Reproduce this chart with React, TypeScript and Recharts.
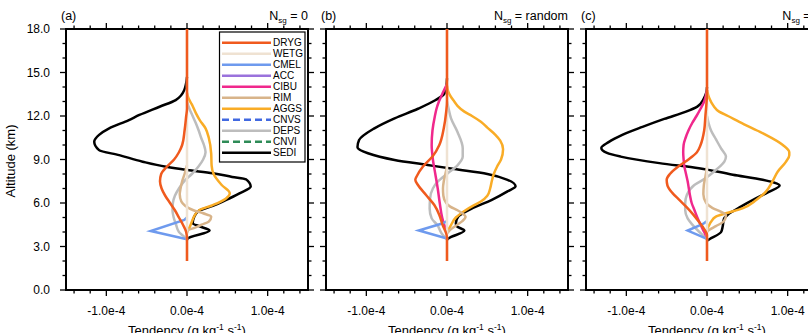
import React from 'react';
import { ComposedChart, Line, XAxis, YAxis, ReferenceArea } from 'recharts';

// Profile points: [altitude (km), tendency in units of 1e-5 g kg-1 s-1]
type Pt = [number, number];
const UNIT = 1e-5;

const SERIES_NAMES = ['DRYG', 'WETG', 'CMEL', 'ACC', 'CIBU', 'RIM', 'AGGS', 'CNVS', 'DEPS', 'CNVI', 'SEDI'];

const SERIES_STYLE: Record<string, { color: string; dash?: string; linear?: boolean }> = {
  DRYG: { color: '#F05A1E' },
  WETG: { color: '#EFE2D2' },
  CMEL: { color: '#6E9AEE', linear: true },
  ACC: { color: '#9A72DC' },
  CIBU: { color: '#F0288C' },
  RIM: { color: '#D8B48A' },
  AGGS: { color: '#F9AC26' },
  CNVS: { color: '#4169E1', dash: '7 4' },
  DEPS: { color: '#BDBDBD' },
  CNVI: { color: '#2E8B57', dash: '7 4' },
  SEDI: { color: '#000000' },
};

const ZERO: Pt[] = [[2, 0], [18, 0]];

// ---- N_sg = 0
const DRYG_A: Pt[] = [[2, 0], [3.5, 0], [4, -0.1], [4.5, -0.5], [5, -1.0], [5.5, -1.5], [6, -2.1], [6.5, -2.7], [7, -3.15], [7.5, -3.35], [8, -3.2], [8.5, -2.5], [9, -1.6], [9.5, -1.0], [10, -0.6], [11, -0.3], [12, -0.1], [12.5, 0], [18, 0]];
const CMEL_A: Pt[] = [[3.5, 0], [4.07, -4.5], [4.83, -0.33], [5.0, 0]];
const RIM_A: Pt[] = [[3.9, 0], [4.1, 0.1], [4.3, 1.0], [4.5, 1.8], [4.72, 2.7], [5.06, 3.0], [5.29, 2.0], [5.5, 0.8], [5.8, -0.2], [6.1, -0.7], [6.6, -0.9], [7.0, -0.8], [7.5, -0.6], [8.0, -0.3], [8.6, 0]];
const AGGS_A: Pt[] = [[4.0, 0], [4.3, 0.3], [4.7, 0.6], [5.1, 0.9], [5.5, 1.5], [5.86, 3.2], [6.3, 4.8], [6.67, 5.3], [7.24, 4.3], [8.0, 3.3], [8.6, 3.05], [9.4, 3.0], [10.5, 2.7], [11.15, 2.3], [11.7, 1.6], [12.2, 1.1], [12.8, 0.6], [13.2, 0.2], [13.6, 0]];
const DEPS_A: Pt[] = [[3.5, 0], [3.75, -0.5], [4.0, -1.0], [4.5, -1.35], [5.0, -1.65], [5.5, -1.8], [6.0, -1.75], [6.5, -1.5], [7.0, -1.0], [7.6, -0.2], [8.0, 0.6], [8.5, 1.4], [9.0, 2.0], [9.5, 2.3], [10.0, 2.1], [10.5, 1.75], [11.0, 1.45], [11.5, 1.1], [12.0, 0.7], [12.5, 0.3], [13.0, 0]];
const SEDI_A: Pt[] = [[3.45, 0], [3.56, 0.1], [4.1, 2.8], [4.4, 1.5], [4.6, 0.7], [5.06, 0.9], [5.47, 1.5], [5.8, 3.2], [6.2, 4.8], [6.67, 6.5], [7.13, 7.9], [7.63, 7.3], [7.8, 5.6], [8.05, 3.2], [8.28, 0], [8.5, -2.6], [8.85, -5.5], [9.3, -8.4], [9.65, -10.9], [10.23, -11.5], [10.7, -10.9], [11.15, -9.65], [11.72, -7.2], [12.07, -5.9], [12.64, -3.4], [13.1, -1.4], [13.8, -0.33], [14.7, 0]];

// ---- N_sg = random
const DRYG_B: Pt[] = [[2, 0], [3.6, 0], [3.9, -0.1], [4.48, -0.54], [5.17, -0.95], [5.86, -1.57], [6.55, -2.6], [7.24, -3.6], [7.6, -3.93], [7.9, -3.7], [8.5, -3.0], [9.2, -1.8], [10.0, -0.95], [11.15, -0.4], [12.3, -0.1], [13.0, 0], [18, 0]];
const CMEL_B: Pt[] = [[3.55, 0], [4.1, -3.5], [4.6, -0.5], [4.75, 0]];
const CIBU_B: Pt[] = [[4.0, 0], [4.5, -0.35], [5.0, -0.6], [6.0, -0.9], [7.0, -1.15], [8.0, -1.45], [9.0, -1.75], [10.0, -1.9], [11.0, -1.8], [12.0, -1.5], [12.5, -1.3], [13.0, -1.0], [13.5, -0.6], [14.2, 0]];
const RIM_B: Pt[] = [[3.9, 0], [4.1, 0.3], [4.4, 1.0], [4.75, 1.9], [5.05, 2.3], [5.25, 2.0], [5.5, 1.3], [5.75, 0.4], [6.0, -0.1], [6.5, -0.45], [7.0, -0.5], [7.5, -0.4], [8.0, -0.2], [8.5, 0]];
const AGGS_B: Pt[] = [[4.0, 0], [4.48, 0.5], [5.0, 1.1], [5.5, 2.3], [5.8, 3.2], [6.1, 4.2], [6.5, 5.0], [7.0, 5.35], [7.5, 5.55], [8.0, 5.8], [8.5, 6.2], [9.0, 6.7], [9.7, 6.95], [10.3, 6.6], [10.7, 6.0], [11.2, 5.0], [11.6, 4.2], [12.0, 3.1], [12.3, 2.15], [12.7, 1.3], [13.0, 0.9], [13.4, 0.4], [13.7, 0.15], [14.1, 0]];
const DEPS_B: Pt[] = [[3.5, 0], [3.9, -0.66], [4.48, -1.2], [4.94, -1.9], [5.6, -2.15], [6.3, -2.1], [7.0, -1.75], [7.47, -1.15], [8.05, 0.1], [8.6, 1.3], [9.2, 1.95], [9.77, 1.95], [10.9, 1.3], [11.84, 0.5], [12.5, 0.2], [13.0, 0]];
const SEDI_B: Pt[] = [[3.45, 0], [3.56, 0.2], [4.1, 2.15], [4.4, 1.2], [4.6, 1.1], [5.06, 1.4], [5.6, 3.0], [6.2, 5.5], [6.8, 7.5], [7.15, 8.5], [7.6, 7.5], [8.0, 5.0], [8.34, 0.9], [8.62, -2.4], [8.97, -6.5], [9.43, -9.8], [9.85, -11.1], [10.34, -10.9], [11.15, -9.0], [11.84, -6.5], [12.5, -3.6], [13.1, -1.4], [13.56, -0.3], [14.0, -0.1], [14.6, 0]];

// ---- N_sg = 10
const DRYG_C: Pt[] = [[2, 0], [3.8, 0], [4.2, -0.35], [4.7, -1.0], [5.2, -1.7], [5.7, -2.5], [6.2, -3.4], [6.7, -4.3], [7.2, -4.9], [7.6, -5.0], [8.0, -4.6], [8.5, -3.6], [9.0, -2.3], [9.5, -1.25], [10.0, -0.8], [11.0, -0.35], [12.0, -0.2], [13.0, -0.05], [13.5, 0], [18, 0]];
const CMEL_C: Pt[] = [[3.52, 0], [4.1, -2.4], [4.55, -0.5], [4.75, 0]];
const CIBU_C: Pt[] = [[3.6, 0], [4.0, -0.35], [4.5, -0.8], [5.0, -1.2], [5.5, -1.55], [6.0, -1.9], [6.5, -2.1], [7.0, -2.25], [7.5, -2.4], [8.0, -2.6], [8.5, -2.8], [9.0, -2.9], [9.5, -2.95], [10.0, -2.9], [10.5, -2.65], [11.0, -2.3], [11.5, -1.85], [12.0, -1.3], [12.5, -0.8], [13.0, -0.35], [13.5, -0.1], [13.8, 0]];
const RIM_C: Pt[] = [[4.0, 0], [4.15, 0.3], [4.4, 1.1], [4.75, 2.1], [5.15, 2.35], [5.4, 1.7], [5.65, 0.7], [6.0, -0.1], [6.6, -0.45], [7.2, -0.4], [7.8, -0.2], [8.5, 0]];
const AGGS_C: Pt[] = [[4.2, 0], [4.4, 0.2], [4.7, 0.5], [5.06, 1.1], [5.29, 2.35], [5.63, 4.4], [6.2, 6.1], [6.78, 7.3], [7.47, 8.1], [8.16, 8.76], [8.85, 9.8], [9.3, 10.2], [9.5, 10.2], [10.0, 9.4], [10.7, 7.3], [11.0, 6.2], [11.6, 4.0], [12.0, 2.6], [12.3, 1.5], [12.7, 0.8], [13.2, 0.3], [13.8, 0]];
const DEPS_C: Pt[] = [[3.5, 0], [3.9, -0.75], [4.37, -1.6], [4.94, -2.4], [5.5, -2.7], [6.0, -2.7], [6.55, -2.5], [7.24, -1.57], [7.7, -0.2], [8.28, 1.1], [8.85, 2.15], [9.2, 2.35], [9.77, 1.74], [10.4, 1.1], [11.0, 0.5], [11.5, 0.2], [12.0, 0]];
const SEDI_C: Pt[] = [[3.4, 0], [3.5, 0.3], [4.0, 1.75], [4.4, 1.95], [4.9, 2.1], [5.2, 2.6], [5.75, 4.2], [6.3, 6.0], [6.75, 7.6], [7.2, 9.0], [7.6, 6.9], [7.95, 3.2], [8.4, -1.0], [8.75, -5.9], [9.2, -10.7], [9.45, -12.4], [9.8, -13.1], [10.2, -12.2], [10.7, -10.5], [11.25, -8.0], [11.8, -5.3], [12.3, -2.6], [12.65, -1.2], [13.2, -0.4], [13.6, -0.1], [14.0, 0]];

const PROFILES_A: Record<string, Pt[]> = { DRYG: DRYG_A, WETG: ZERO, CMEL: CMEL_A, ACC: ZERO, CIBU: ZERO, RIM: RIM_A, AGGS: AGGS_A, CNVS: ZERO, DEPS: DEPS_A, CNVI: ZERO, SEDI: SEDI_A };
const PROFILES_B: Record<string, Pt[]> = { DRYG: DRYG_B, WETG: ZERO, CMEL: CMEL_B, ACC: ZERO, CIBU: CIBU_B, RIM: RIM_B, AGGS: AGGS_B, CNVS: ZERO, DEPS: DEPS_B, CNVI: ZERO, SEDI: SEDI_B };
const PROFILES_C: Record<string, Pt[]> = { DRYG: DRYG_C, WETG: ZERO, CMEL: CMEL_C, ACC: ZERO, CIBU: CIBU_C, RIM: RIM_C, AGGS: AGGS_C, CNVS: ZERO, DEPS: DEPS_C, CNVI: ZERO, SEDI: SEDI_C };

// Axis ticks
const X_TICKS = [-1.4e-4, -1.2e-4, -1.0e-4, -0.8e-4, -0.6e-4, -0.4e-4, -0.2e-4, 0, 0.2e-4, 0.4e-4, 0.6e-4, 0.8e-4, 1.0e-4, 1.2e-4, 1.4e-4];
const X_MAJOR = [-1.0e-4, 0, 1.0e-4];
const X_LABELS = ['-1.0e-4', '0.0e-4', '1.0e-4'];
const Y_TICKS = [0, 1, 2, 3, 4, 5, 6, 7, 8, 9, 10, 11, 12, 13, 14, 15, 16, 17, 18];
const Y_MAJOR = [0, 3, 6, 9, 12, 15, 18];
const Y_LABELS = ['0.0', '3.0', '6.0', '9.0', '12.0', '15.0', '18.0'];

const X_DOMAIN: [number, number] = [-1.5e-4, 1.5e-4];
const Y_DOMAIN: [number, number] = [0, 18];

const FONT = '"Liberation Sans", Arial, Helvetica, sans-serif';
const W = 808;
const H = 333;
const PLOT_TOP = 29;
const PLOT_H = 261;
const PLOT_W = 242;
const X_AXIS_H = H - PLOT_TOP - PLOT_H;
const MAJOR_LEN = 6;
const MINOR_LEN = 3.5;

function buildTable(profiles: Record<string, Pt[]>) {
  const alts = Array.from(new Set(SERIES_NAMES.flatMap((k) => profiles[k].map((p) => p[0])))).sort((a, b) => a - b);
  return alts.map((alt) => {
    const row: Record<string, number | null> = { alt };
    SERIES_NAMES.forEach((k) => {
      const hit = profiles[k].find((p) => p[0] === alt);
      row[k] = hit ? hit[1] * UNIT : null;
    });
    return row;
  });
}

// Bottom axis tick: outward marks on the bottom and top frame edges, label on majors.
const XTick = (props: any) => {
  const { x, y, payload } = props;
  const idx = X_MAJOR.findIndex((m) => Math.abs(m - payload.value) < 1e-9);
  const len = idx >= 0 ? MAJOR_LEN : MINOR_LEN;
  const top = y - PLOT_H;
  return (
    <g>
      <line x1={x} x2={x} y1={y} y2={y + len} stroke="#000" strokeWidth={1.3} />
      <line x1={x} x2={x} y1={top} y2={top - len} stroke="#000" strokeWidth={1.3} />
      {idx >= 0 && (
        <text x={x} y={y + 25} textAnchor="middle" fontSize={12} fontFamily={FONT} fill="#000">
          {X_LABELS[idx]}
        </text>
      )}
    </g>
  );
};

// Left axis tick: outward marks on the left and right frame edges, optional labels.
const makeYTick = (showLabels: boolean) => (props: any) => {
  const { x, y, payload } = props;
  const idx = Y_MAJOR.findIndex((m) => Math.abs(m - payload.value) < 1e-9);
  const len = idx >= 0 ? MAJOR_LEN : MINOR_LEN;
  const right = x + PLOT_W;
  return (
    <g>
      <line x1={x} x2={x - len} y1={y} y2={y} stroke="#000" strokeWidth={1.3} />
      <line x1={right} x2={right + len} y1={y} y2={y} stroke="#000" strokeWidth={1.3} />
      {showLabels && idx >= 0 && (
        <text x={x - 16} y={y + 4.3} textAnchor="end" fontSize={12} fontFamily={FONT} fill="#000">
          {Y_LABELS[idx]}
        </text>
      )}
    </g>
  );
};

type PanelProps = {
  profiles: Record<string, Pt[]>;
  plotLeft: number;
  axisWidth: number;
  showLabels: boolean;
};

function Panel({ profiles, plotLeft, axisWidth, showLabels }: PanelProps) {
  const data = buildTable(profiles);
  const chartLeft = plotLeft - axisWidth;
  const chartW = axisWidth + PLOT_W + 12;
  // drawn bottom-up so DRYG sits on top
  const drawOrder = [...SERIES_NAMES].reverse();
  return (
    <div style={{ position: 'absolute', left: chartLeft, top: 0 }}>
      <ComposedChart
        width={chartW}
        height={H}
        data={data}
        layout="vertical"
        margin={{ top: PLOT_TOP, right: 12, bottom: 0, left: 0 }}
      >
        <XAxis
          type="number"
          domain={X_DOMAIN}
          allowDataOverflow
          ticks={X_TICKS}
          interval={0}
          tickSize={0}
          tickMargin={0}
          tickLine={false}
          axisLine={false}
          height={X_AXIS_H}
          tick={XTick}
        />
        <YAxis
          type="number"
          dataKey="alt"
          domain={Y_DOMAIN}
          allowDataOverflow
          reversed
          ticks={Y_TICKS}
          interval={0}
          tickSize={0}
          tickMargin={0}
          tickLine={false}
          axisLine={false}
          width={axisWidth}
          tick={makeYTick(showLabels)}
        />
        {drawOrder.map((k) => {
          const st = SERIES_STYLE[k];
          // profiles that stay on the zero line sit under WETG, slightly thinner
          const flat = profiles[k] === ZERO && k !== 'WETG';
          return (
            <Line
              key={k}
              dataKey={k}
              type={st.linear ? 'linear' : 'monotone'}
              stroke={st.color}
              strokeWidth={flat ? 1.6 : 2.5}
              strokeDasharray={st.dash}
              dot={false}
              activeDot={false}
              connectNulls
              isAnimationActive={false}
            />
          );
        })}
        <ReferenceArea
          x1={X_DOMAIN[0]}
          x2={X_DOMAIN[1]}
          y1={Y_DOMAIN[0]}
          y2={Y_DOMAIN[1]}
          fill="none"
          fillOpacity={0}
          stroke="#000"
          strokeWidth={2}
        />
      </ComposedChart>
    </div>
  );
}

const PANELS = [
  { letter: '(a)', nsg: '0', plotLeft: 66, axisWidth: 66, showLabels: true, profiles: PROFILES_A },
  { letter: '(b)', nsg: 'random', plotLeft: 326, axisWidth: 10, showLabels: false, profiles: PROFILES_B },
  { letter: '(c)', nsg: '10', plotLeft: 586, axisWidth: 10, showLabels: false, profiles: PROFILES_C },
];

function Legend() {
  const x0 = 219.5;
  const y0 = 32;
  return (
    <g>
      <rect x={x0} y={y0} width={85.5} height={130} fill="#fff" stroke="#000" strokeWidth={1.2} />
      {SERIES_NAMES.map((k, i) => {
        const st = SERIES_STYLE[k];
        const cy = 42.7 + 11 * i;
        return (
          <g key={k}>
            <line x1={222} x2={271} y1={cy} y2={cy} stroke={st.color} strokeWidth={2.5} strokeDasharray={st.dash} />
            <text x={273} y={cy + 3.6} fontSize={10} fontFamily={FONT} fill="#000">
              {k}
            </text>
          </g>
        );
      })}
    </g>
  );
}

export default function App() {
  return (
    <div
      style={{
        position: 'absolute',
        left: 0,
        top: 0,
        width: W,
        height: H,
        overflow: 'hidden',
        background: '#fff',
        fontFamily: FONT,
      }}
    >
      {PANELS.map((p) => (
        <Panel key={p.letter} profiles={p.profiles} plotLeft={p.plotLeft} axisWidth={p.axisWidth} showLabels={p.showLabels} />
      ))}
      <svg width={W} height={H} style={{ position: 'absolute', left: 0, top: 0, pointerEvents: 'none' }}>
        {PANELS.map((p) => {
          const cx = p.plotLeft + PLOT_W / 2;
          return (
            <g key={p.letter} fontFamily={FONT} fill="#000">
              <text x={p.plotLeft - 5} y={20} fontSize={12.5}>
                {p.letter}
              </text>
              <text x={p.plotLeft + PLOT_W} y={20} fontSize={12.5} textAnchor="end">
                N
                <tspan fontSize={8} dy={3}>sg</tspan>
                <tspan dy={-3}>{' = ' + p.nsg}</tspan>
              </text>
              <text x={cx} y={334.5} fontSize={13} textAnchor="middle">
                Tendency (g kg
                <tspan fontSize={8.5} dy={-5}>-1</tspan>
                <tspan dy={5}> s</tspan>
                <tspan fontSize={8.5} dy={-5}>-1</tspan>
                <tspan dy={5}>)</tspan>
              </text>
            </g>
          );
        })}
        <text
          x={15}
          y={161}
          fontSize={13}
          fontFamily={FONT}
          textAnchor="middle"
          transform="rotate(-90 15 161)"
          fill="#000"
        >
          Altitude (km)
        </text>
        <Legend />
      </svg>
    </div>
  );
}
